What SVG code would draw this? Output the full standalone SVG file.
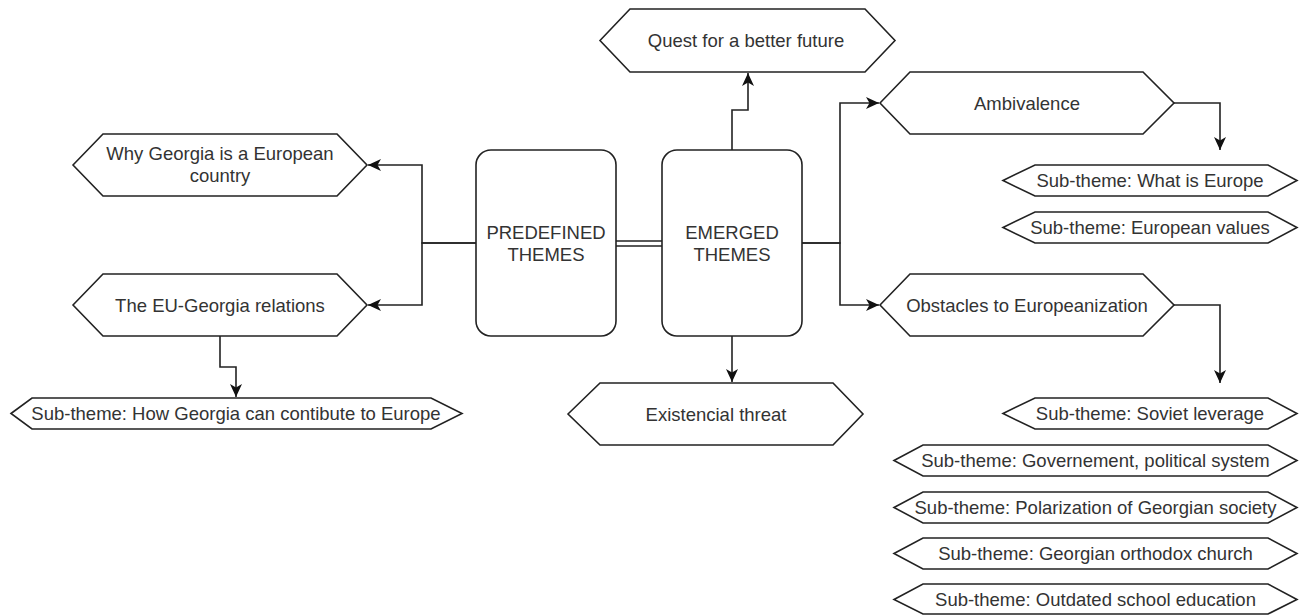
<svg xmlns="http://www.w3.org/2000/svg" width="1312" height="615" viewBox="0 0 1312 615">
<style>
.s{fill:#fff;stroke:#222;stroke-width:1.6}
.t{font-family:"Liberation Sans",Arial,sans-serif;font-size:18.5px;fill:#333;text-anchor:middle}
.c{fill:none;stroke:#222;stroke-width:1.6}
</style>
<defs>
<marker id="a" markerUnits="userSpaceOnUse" markerWidth="16" markerHeight="14" refX="13" refY="6" orient="auto">
<path d="M0,0 L13,6 L0,12 L3.5,6 Z" fill="#111"/>
</marker>
</defs>
<rect width="1312" height="615" fill="#fff"/>
<g id="connectors">
<path class="c" d="M476,243 H422 V165 H368" marker-end="url(#a)"/>
<path class="c" d="M476,243 H422 V305 H368" marker-end="url(#a)"/>
<path class="c" d="M616,241 H662 M616,246 H662"/>
<path class="c" d="M732,150 V110 H748 V73" marker-end="url(#a)"/>
<path class="c" d="M732,336 V382" marker-end="url(#a)"/>
<path class="c" d="M802,243 H840 V103 H879" marker-end="url(#a)"/>
<path class="c" d="M802,243 H840 V305 H879" marker-end="url(#a)"/>
<path class="c" d="M1174,103 H1220 V150" marker-end="url(#a)"/>
<path class="c" d="M1174,305 H1220 V383" marker-end="url(#a)"/>
<path class="c" d="M220,336 V367 H236 V397" marker-end="url(#a)"/>
</g>
<g id="predefined">
<rect class="s" x="476" y="150" width="140" height="186" rx="15"/>
<text class="t" x="546" y="239">PREDEFINED</text>
<text class="t" x="546" y="261">THEMES</text>
</g>
<g id="emerged">
<rect class="s" x="662" y="150" width="140" height="186" rx="15"/>
<text class="t" x="732" y="239">EMERGED</text>
<text class="t" x="732" y="261">THEMES</text>
</g>
<g id="why">
<path class="s" d="M73,165 L103,134 L337,134 L367,165 L337,196 L103,196 Z"/>
<text class="t" x="220" y="160">Why Georgia is a European</text>
<text class="t" x="220" y="182">country</text>
</g>
<g id="eu">
<path class="s" d="M73,305 L103,274 L337,274 L367,305 L337,336 L103,336 Z"/>
<text class="t" x="220" y="311.5">The EU-Georgia relations</text>
</g>
<g id="how">
<path class="s" d="M11,413.5 L32,398 L431,398 L462,413.5 L431,429 L32,429 Z"/>
<text class="t" x="236" y="420">Sub-theme: How Georgia can contibute to Europe</text>
</g>
<g id="quest">
<path class="s" d="M600,40.5 L630,9 L865,9 L895,40.5 L865,72 L630,72 Z"/>
<text class="t" x="746" y="47">Quest for a better future</text>
</g>
<g id="existencial">
<path class="s" d="M568,414 L600,383 L833,383 L863,414 L833,445 L600,445 Z"/>
<text class="t" x="716" y="420.5">Existencial threat</text>
</g>
<g id="ambivalence">
<path class="s" d="M880,103 L910,72 L1143,72 L1174,103 L1143,134 L910,134 Z"/>
<text class="t" x="1027" y="109.5">Ambivalence</text>
</g>
<g id="obstacles">
<path class="s" d="M880,305 L910,274 L1143,274 L1174,305 L1143,336 L910,336 Z"/>
<text class="t" x="1027" y="311.5">Obstacles to Europeanization</text>
</g>
<g id="what">
<path class="s" d="M1003,180.5 L1035,165 L1268,165 L1297,180.5 L1268,196 L1035,196 Z"/>
<text class="t" x="1150" y="187">Sub-theme: What is Europe</text>
</g>
<g id="values">
<path class="s" d="M1003,227.5 L1035,212 L1268,212 L1297,227.5 L1268,243 L1035,243 Z"/>
<text class="t" x="1150" y="234">Sub-theme: European values</text>
</g>
<g id="soviet">
<path class="s" d="M1003,413.5 L1035,398 L1268,398 L1297,413.5 L1268,429 L1035,429 Z"/>
<text class="t" x="1150" y="420">Sub-theme: Soviet leverage</text>
</g>
<g id="gov">
<path class="s" d="M894,460.5 L923,445 L1268,445 L1297,460.5 L1268,476 L923,476 Z"/>
<text class="t" x="1095.5" y="467">Sub-theme: Governement, political system</text>
</g>
<g id="polar">
<path class="s" d="M894,507.5 L923,492 L1268,492 L1297,507.5 L1268,523 L923,523 Z"/>
<text class="t" x="1095.5" y="514">Sub-theme: Polarization of Georgian society</text>
</g>
<g id="church">
<path class="s" d="M894,553.5 L923,538 L1268,538 L1297,553.5 L1268,569 L923,569 Z"/>
<text class="t" x="1095.5" y="560">Sub-theme: Georgian orthodox church</text>
</g>
<g id="school">
<path class="s" d="M894,599.5 L923,584 L1268,584 L1297,599.5 L1268,614 L923,614 Z"/>
<text class="t" x="1095.5" y="606">Sub-theme: Outdated school education</text>
</g>
</svg>
